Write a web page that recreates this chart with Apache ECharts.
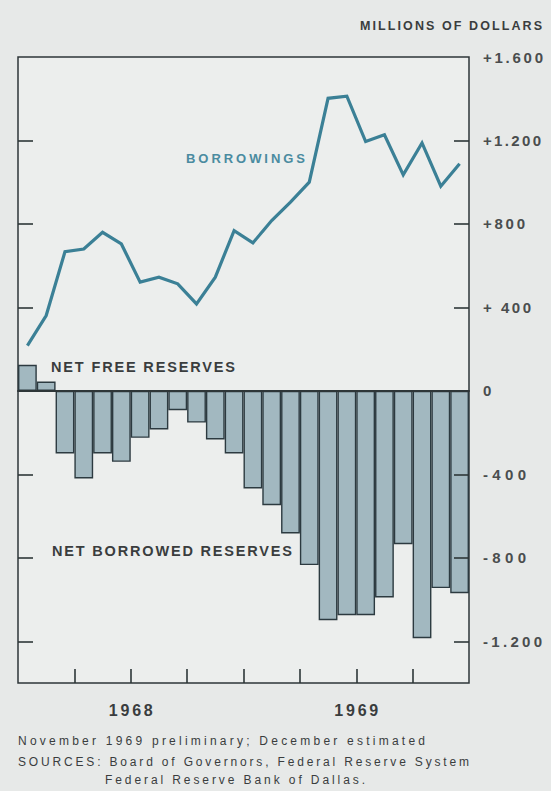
<!DOCTYPE html>
<html>
<head>
<meta charset="utf-8">
<script src="https://cdn.jsdelivr.net/npm/echarts@6.0.0/dist/echarts.min.js"></script>
<style>
  html, body { margin: 0; padding: 0; background: #e7e9e8; }
  #chart { width: 551px; height: 791px; }
</style>
</head>
<body>
<div id="chart"></div>
<script>
// ---- data ----
const months = [
  'Jan 1968','Feb 1968','Mar 1968','Apr 1968','May 1968','Jun 1968',
  'Jul 1968','Aug 1968','Sep 1968','Oct 1968','Nov 1968','Dec 1968',
  'Jan 1969','Feb 1969','Mar 1969','Apr 1969','May 1969','Jun 1969',
  'Jul 1969','Aug 1969','Sep 1969','Oct 1969','Nov 1969','Dec 1969'
];
// net free (+) / net borrowed (-) reserves, millions of dollars
const netReserves = [125, 45, -300, -420, -300, -340, -225, -185, -93, -152, -233, -300,
                     -468, -548, -683, -835, -1099, -1075, -1075, -990, -735, -1185, -945, -970];
// member bank borrowings, millions of dollars
const borrowings = [217, 361, 667, 680, 760, 704, 521, 545, 513, 417, 545, 768,
                    709, 816, 905, 1000, 1402, 1412, 1195, 1227, 1035, 1188, 981, 1088];
const yTickValues = [-1200, -800, -400, 400, 800, 1200];
const yLabelValues = [-1200, -800, -400, 0, 400, 800, 1200, 1600];
const yLabelTexts = ['-1.200', '-800', '-400', '0', '+ 400', '+800', '+1.200', '+1.600'];
const quarterTicks = [3, 6, 9, 12, 15, 18, 21];
const yearPositions = [6, 18];
const yearLabels = ['1968', '1969'];

const unitLabel = 'MILLIONS OF DOLLARS';
const footnotes = [
  'November 1969 preliminary; December estimated',
  'SOURCES: Board of Governors, Federal Reserve System',
  'Federal Reserve Bank of Dallas.'
];

// ---- chart ----
const ink = '#2e3638';
const textColor = '#3a3d3e';
const lineColor = '#3b8096';

const chart = echarts.init(document.getElementById('chart'), null, { renderer: 'svg' });

function yAxisBase(position) {
  return {
    type: 'value',
    position: position,
    min: -1400,
    max: 1600,
    splitLine: { show: false },
    axisLine: { show: false, onZero: false },
    z: 4,
    axisTick: {
      show: true, inside: true, length: 15,
      customValues: yTickValues,
      lineStyle: { color: ink, width: 1.6 }
    }
  };
}

const yRight = yAxisBase('right');
yRight.axisLabel = {
  show: true,
  customValues: yLabelValues,
  formatter: function (v) {
    const i = yLabelValues.indexOf(v);
    return i >= 0 ? yLabelTexts[i] : '';
  },
  margin: 14,
  fontFamily: 'Liberation Sans',
  fontSize: 15,
  fontWeight: 'bold',
  color: '#4a4d4e'
};
const yLeft = yAxisBase('left');
yLeft.axisLabel = { show: false };

const option = {
  animation: false,
  backgroundColor: '#e7e9e8',
  grid: {
    left: 18, top: 57, width: 451, height: 626,
    show: true, borderColor: ink, borderWidth: 1.5,
    backgroundColor: '#eceeed'
  },
  xAxis: [
    {
      type: 'category',
      data: months,
      boundaryGap: true,
      z: 4,
      axisLine: { show: true, onZero: true, lineStyle: { color: ink, width: 2 } },
      axisTick: { show: false },
      axisLabel: { show: false },
      splitLine: { show: false }
    },
    {
      type: 'value',
      min: 0, max: 24, interval: 3,
      position: 'bottom',
      z: 4,
      axisLine: { show: false, onZero: false },
      splitLine: { show: false },
      axisTick: {
        show: true, inside: true, length: 14,
        customValues: quarterTicks,
        lineStyle: { color: ink, width: 1.6 }
      },
      axisLabel: {
        show: true,
        customValues: yearPositions,
        formatter: function (v) {
          const i = yearPositions.indexOf(v);
          return i >= 0 ? yearLabels[i] : '';
        },
        margin: 19,
        fontFamily: 'Liberation Sans',
        fontSize: 16,
        fontWeight: 'bold',
        color: textColor
      }
    }
  ],
  yAxis: [yRight, yLeft],
  series: [
    {
      name: 'Net reserves',
      type: 'bar',
      xAxisIndex: 0,
      yAxisIndex: 0,
      data: netReserves,
      barCategoryGap: '0%',
      z: 2,
      itemStyle: { color: '#a2b8c0', borderColor: '#2c3a40', borderWidth: 1.4 }
    },
    {
      name: 'Borrowings',
      type: 'line',
      xAxisIndex: 0,
      yAxisIndex: 0,
      data: borrowings,
      symbol: 'none',
      z: 6,
      lineStyle: { color: lineColor, width: 3.2, join: 'miter' }
    }
  ],
  graphic: [
    { type: 'text', z: 10, style: { text: unitLabel, x: 360, y: 26, textVerticalAlign: 'middle',
      font: 'bold 12.5px "Liberation Sans"', fill: textColor } },
    { type: 'text', z: 10, style: { text: 'BORROWINGS', x: 186, y: 158, textVerticalAlign: 'middle',
      font: 'bold 13px "Liberation Sans"', fill: '#4a8ba0' } },
    { type: 'text', z: 10, style: { text: 'NET FREE RESERVES', x: 51, y: 366.5, textVerticalAlign: 'middle',
      font: 'bold 14.5px "Liberation Sans"', fill: textColor } },
    { type: 'text', z: 10, style: { text: 'NET BORROWED RESERVES', x: 52, y: 550.5, textVerticalAlign: 'middle',
      font: 'bold 14.5px "Liberation Sans"', fill: textColor } },
    { type: 'text', z: 10, style: { text: footnotes[0], x: 18, y: 741, textVerticalAlign: 'middle',
      font: '12px "Liberation Sans"', fill: textColor } },
    { type: 'text', z: 10, style: { text: footnotes[1], x: 18, y: 762, textVerticalAlign: 'middle',
      font: '12px "Liberation Sans"', fill: textColor } },
    { type: 'text', z: 10, style: { text: footnotes[2], x: 105, y: 780, textVerticalAlign: 'middle',
      font: '12px "Liberation Sans"', fill: textColor } }
  ]
};

chart.setOption(option);

// letter tracking of the printed original, applied to the SVG text
const trackWidths = {};
trackWidths[unitLabel] = 182;
trackWidths['BORROWINGS'] = 119;
trackWidths['NET FREE RESERVES'] = 184;
trackWidths['NET BORROWED RESERVES'] = 240;
trackWidths[footnotes[0]] = 407;
trackWidths[footnotes[1]] = 451;
trackWidths[footnotes[2]] = 260;
trackWidths['1968'] = 44;
trackWidths['1969'] = 44;
trackWidths['+1.600'] = 60;
trackWidths['+1.200'] = 58;
trackWidths['+800'] = 42;
trackWidths['+ 400'] = 48;
trackWidths['-400'] = 43;
trackWidths['-800'] = 43;
trackWidths['-1.200'] = 59;

function applyTracking() {
  document.querySelectorAll('#chart text').forEach(function (t) {
    const w = trackWidths[t.textContent];
    if (w) {
      t.setAttribute('textLength', w);
      t.setAttribute('lengthAdjust', 'spacing');
    }
  });
}
chart.on('finished', applyTracking);
applyTracking();
setTimeout(applyTracking, 50);
setTimeout(applyTracking, 300);
</script>
</body>
</html>
